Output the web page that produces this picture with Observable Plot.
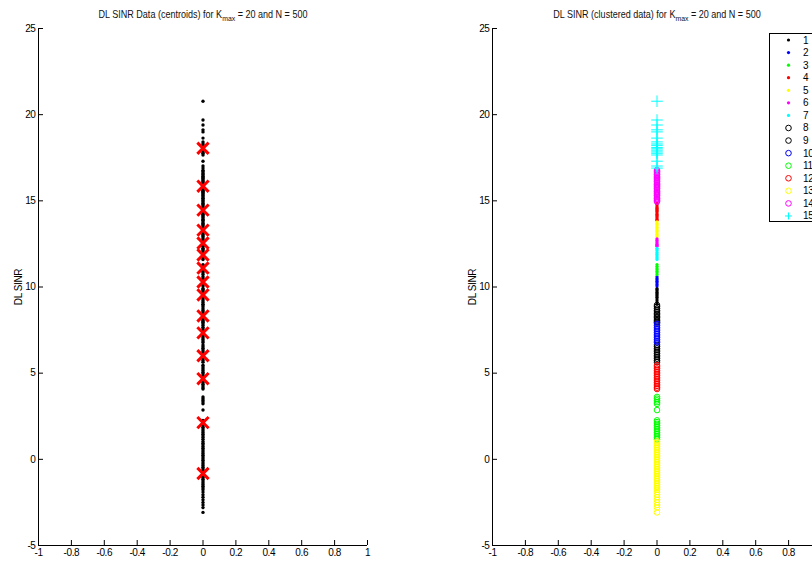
<!DOCTYPE html>
<html>
<head>
<meta charset="utf-8">
<script src="https://cdn.jsdelivr.net/npm/d3@7"></script>
<script src="https://cdn.jsdelivr.net/npm/@observablehq/plot@0.6"></script>
<style>
  html, body { margin: 0; padding: 0; background: #fff; }
  #wrap { position: relative; width: 812px; height: 561px; overflow: hidden; background: #fff;
          font-family: "Liberation Sans", Arial, Helvetica, sans-serif; color: #000; }
  .panel { position: absolute; top: 0; width: 377px; height: 561px; }
  .panel svg { max-width: none !important; display: block; }
  .panel svg text { letter-spacing: -0.4px; }
  .title { position: absolute; top: 8px; font-size: 10.5px; white-space: nowrap; transform: translateX(-50%) scaleX(0.86); line-height: 12px; color: #111; }
  .title sub { font-size: 8px; vertical-align: -3px; line-height: 0; }
  #legend { position: absolute; left: 769px; top: 33px; }
</style>
</head>
<body>
<div id="wrap">
  <div class="panel" id="p1" style="left:0px"></div>
  <div class="panel" id="p2" style="left:454px"></div>
  <div class="title" style="left:202.5px">DL SINR Data (centroids) for K<sub>max</sub> = 20 and N = 500</div>
  <div class="title" style="left:656.5px">DL SINR (clustered data) for K<sub>max</sub> = 20 and N = 500</div>
  <div id="legend"></div>
</div>
<script>
// ---- Data ----
const xTicks = [-1, -0.8, -0.6, -0.4, -0.2, 0, 0.2, 0.4, 0.6, 0.8, 1];
const yTicks = [-5, 0, 5, 10, 15, 20, 25];
const xDomain = [-1, 1];
const yDomain = [-5, 25];
const dataX = 0; // all samples lie on x = 0

// DL SINR samples grouped by cluster (cluster 1 ... 15)
const cluster1 = [9.92, 9.85, 9.78, 9.7, 9.62, 9.55, 9.48, 9.4, 9.3, 9.2, 9.1, 9.0];
const cluster2 = [10.6, 10.5, 10.42, 10.34, 10.25, 10.15, 10.06];
const cluster3 = [11.3, 11.2, 11.1, 11.02, 10.92, 10.82, 10.72];
const cluster4 = [14.86, 14.78, 14.7, 14.62, 14.55, 14.5, 14.44, 14.38, 14.3, 14.22, 14.15, 14.08, 14.0, 13.92, 13.88];
const cluster5 = [13.78, 13.7, 13.62, 13.55, 13.46, 13.38, 13.3, 13.22, 13.14, 13.05, 12.98, 12.9];
const cluster6 = [12.8, 12.72, 12.62, 12.55, 12.48, 12.42, 12.36];
const cluster7 = [12.25, 12.18, 12.1, 12.0, 11.92, 11.85, 11.76, 11.68, 11.6];
const cluster8 = [8.95, 8.85, 8.74, 8.64, 8.55, 8.45, 8.38, 8.3, 8.22, 8.14, 8.06, 7.98, 7.94];
const cluster9 = [6.64, 6.54, 6.44, 6.34, 6.24, 6.14, 6.04, 5.94, 5.84, 5.74, 5.64];
const cluster10 = [7.86, 7.76, 7.66, 7.56, 7.46, 7.36, 7.26, 7.16, 7.06, 6.96, 6.86, 6.78];
const cluster11 = [3.62, 3.52, 3.42, 3.32, 3.22, 2.86, 2.26, 2.16, 2.06, 1.96, 1.86, 1.76, 1.66, 1.56, 1.46, 1.36, 1.26, 1.16];
const cluster12 = [5.46, 5.36, 5.26, 5.16, 5.06, 4.96, 4.86, 4.76, 4.66, 4.56, 4.46, 4.36, 4.26, 4.16, 4.08];
const cluster13 = [1.04, 0.94, 0.84, 0.74, 0.64, 0.54, 0.44, 0.34, 0.24, 0.14, 0.04, -0.06, -0.16, -0.26, -0.36, -0.46,
                   -0.56, -0.66, -0.76, -0.86, -0.96, -1.06, -1.16, -1.26, -1.36, -1.46, -1.56, -1.66, -1.76,
                   -1.9, -2.05, -2.2, -2.35, -2.5, -2.65, -2.8, -3.08];
const cluster14 = [16.78, 16.7, 16.62, 16.55, 16.5, 16.42, 16.35, 16.3, 16.22, 16.15, 16.1, 16.02, 15.95, 15.9,
                   15.82, 15.75, 15.7, 15.62, 15.55, 15.5, 15.42, 15.35, 15.3, 15.22, 15.15, 15.1, 15.02, 14.95];
const cluster15 = [20.78, 19.69, 19.4, 19.12, 19.0, 18.64, 18.42, 18.3, 18.22, 18.1, 18.02, 17.94, 17.84, 17.76, 17.66, 17.3, 17.02, 16.9];

const clusters = [cluster1, cluster2, cluster3, cluster4, cluster5, cluster6, cluster7, cluster8,
                  cluster9, cluster10, cluster11, cluster12, cluster13, cluster14, cluster15];

// Centroid SINR values (red crosses)
const centroids = [18.05, 15.85, 14.46, 13.30, 12.55, 11.86, 11.1, 10.29, 9.54, 8.32, 7.34, 6.01, 4.68, 2.13, -0.82];

const legendLabels = ["1","2","3","4","5","6","7","8","9","10","11","12","13","14","15"];
const clusterColors = ["#000000","#0000ff","#00ff00","#ff0000","#ffff00","#ff00ff","#00ffff",
                       "#000000","#000000","#0000ff","#00ff00","#ff0000","#ffff00","#ff00ff","#00ffff"];
const clusterMarkers = ["dot","dot","dot","dot","dot","dot","dot",
                        "circle","circle","circle","circle","circle","circle","circle","plus"];

// ---- Tables ----
const allSamples = clusters.flat().map(v => ({x: dataX, sinr: v}));
const centroidRows = centroids.map(v => ({x: dataX, sinr: v}));

const font = '"Liberation Sans", Arial, Helvetica, sans-serif';
function baseOptions() {
  return {
    width: 377, height: 561,
    marginLeft: 38, marginRight: 10, marginTop: 28, marginBottom: 16,
    style: {fontFamily: font, fontSize: "10px", background: "transparent", color: "#000", overflow: "visible", maxWidth: "none"},
    x: {domain: xDomain, ticks: xTicks, tickSize: -5, tickPadding: 8, label: null, tickFormat: d => String(d)},
    y: {domain: yDomain, ticks: yTicks, tickSize: -5, tickPadding: 8, label: "DL SINR",
        labelAnchor: "center", labelOffset: 24, labelArrow: "none", tickFormat: d => String(d)}
  };
}

const markerOpts = (m, color) => {
  if (m === "dot") return {r: 1.6, fill: color, stroke: "none", symbol: "circle"};
  if (m === "circle") return {r: 2.8, fill: "none", stroke: color, strokeWidth: 1, symbol: "circle"};
  return {r: 3.8, stroke: color, strokeWidth: 1, symbol: "plus", fill: "none"};
};

// Left panel
const left = Plot.plot({
  ...baseOptions(),
  marks: [
    Plot.ruleX([xDomain[0]], {stroke: "#000"}),
    Plot.ruleY([yDomain[0]], {stroke: "#000"}),
    Plot.dot(allSamples, {x: "x", y: "sinr", r: 1.7, fill: "#000"}),
    Plot.dot(centroidRows, {x: "x", y: "sinr", symbol: "times", r: 5.2, stroke: "#ff0000", strokeWidth: 3})
  ]
});
document.getElementById("p1").appendChild(left);

// Right panel
const clusterMarks = clusters.map((vals, i) =>
  Plot.dot(vals.map(v => ({x: dataX, sinr: v})), {x: "x", y: "sinr", ...markerOpts(clusterMarkers[i], clusterColors[i])}));
const right = Plot.plot({
  ...baseOptions(),
  marks: [
    Plot.ruleX([xDomain[0]], {stroke: "#000"}),
    Plot.ruleY([yDomain[0]], {stroke: "#000"}),
    ...clusterMarks
  ]
});
document.getElementById("p2").appendChild(right);

// Legend (box with marker swatches)
const rowH = 12.57;
const lg = d3.create("svg").attr("width", 60).attr("height", 190).style("overflow", "visible");
lg.append("rect").attr("x", 0.5).attr("y", 0.5).attr("width", 80).attr("height", 188)
  .attr("fill", "#fff").attr("stroke", "#000");
legendLabels.forEach((lab, i) => {
  const cy = 7 + i * rowH;
  const m = clusterMarkers[i], c = clusterColors[i];
  const g = lg.append("g").attr("transform", `translate(19.5,${cy})`);
  if (m === "dot") g.append("circle").attr("r", 1.6).attr("fill", c);
  else if (m === "circle") g.append("circle").attr("r", 2.8).attr("fill", "none").attr("stroke", c);
  else g.append("path").attr("d", "M-3.5,0H3.5M0,-3.5V3.5").attr("stroke", c).attr("fill", "none");
  lg.append("text").attr("x", 34).attr("y", cy).attr("dy", "0.35em")
    .attr("font-family", font).attr("font-size", 10).attr("letter-spacing", "-0.4px").text(lab);
});
document.getElementById("legend").appendChild(lg.node());
</script>
</body>
</html>
